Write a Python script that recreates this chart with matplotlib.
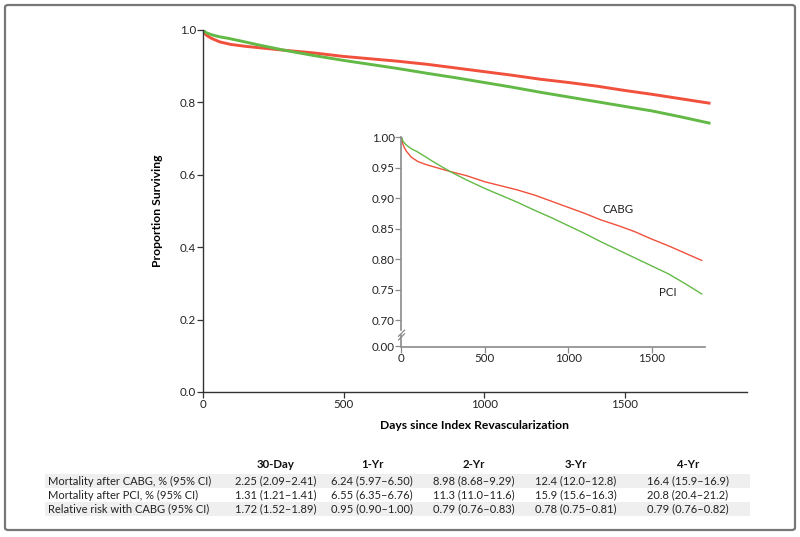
import matplotlib
matplotlib.use("Agg")
import matplotlib.pyplot as plt
from matplotlib.patches import FancyBboxPatch, Rectangle

# ---------------- data ----------------
cabg_days = [0, 7, 15, 30, 60, 100, 150, 200, 290, 390, 500, 690, 800, 900, 1000, 1100, 1200, 1300, 1400, 1500, 1600, 1700, 1800]
cabg_surv = [1.0, 0.990, 0.984, 0.977, 0.967, 0.960, 0.955, 0.951, 0.944, 0.937, 0.927, 0.914, 0.905, 0.895, 0.885, 0.875, 0.864, 0.855, 0.845, 0.833, 0.822, 0.810, 0.798]
pci_days = [0, 10, 30, 60, 90, 150, 190, 290, 390, 500, 690, 800, 900, 1000, 1100, 1200, 1300, 1400, 1500, 1600, 1700, 1800]
pci_surv = [1.0, 0.993, 0.987, 0.981, 0.977, 0.967, 0.960, 0.944, 0.930, 0.916, 0.894, 0.880, 0.868, 0.855, 0.842, 0.828, 0.815, 0.802, 0.789, 0.776, 0.760, 0.743]

main_yticks = [0.0, 0.2, 0.4, 0.6, 0.8, 1.0]
main_xticks = [0, 500, 1000, 1500]
inset_yticks = [0.70, 0.75, 0.80, 0.85, 0.90, 0.95, 1.00]
inset_xticks = [0, 500, 1000, 1500]

col_headers = ["30-Day", "1-Yr", "2-Yr", "3-Yr", "4-Yr"]
row_labels = ["Mortality after CABG, % (95% CI)",
              "Mortality after PCI, % (95% CI)",
              "Relative risk with CABG (95% CI)"]
cell_text = [
    ["2.25 (2.09\u20132.41)", "6.24 (5.97\u20136.50)", "8.98 (8.68\u20139.29)", "12.4 (12.0\u201312.8)", "16.4 (15.9\u201316.9)"],
    ["1.31 (1.21\u20131.41)", "6.55 (6.35\u20136.76)", "11.3 (11.0\u201311.6)", "15.9 (15.6\u201316.3)", "20.8 (20.4\u201321.2)"],
    ["1.72 (1.52\u20131.89)", "0.95 (0.90\u20131.00)", "0.79 (0.76\u20130.83)", "0.78 (0.75\u20130.81)", "0.79 (0.76\u20130.82)"],
]

RED = "#f0503c"
GREEN = "#63b946"
AX = "#333333"
GRAY = "#8a8a8a"

plt.rcParams['font.family'] = ['Lato', 'DejaVu Sans']

W, H = 800, 537
fig = plt.figure(figsize=(8, 5.37), dpi=100)

def fx(x):
    return x / W

def fy(y):
    return 1 - y / H

# outer border
fig.patches.append(FancyBboxPatch((fx(5), fy(530)), fx(790), (525) / H,
                                  boxstyle="round,pad=0,rounding_size=0.004",
                                  transform=fig.transFigure, fill=False,
                                  edgecolor="#777777", linewidth=1.6))

# ---------------- main axes ----------------
ax = fig.add_axes([fx(203), fy(392), fx(747 - 203), (392 - 30) / H])
ax.plot(cabg_days, cabg_surv, color=RED, lw=2.1)
ax.plot(pci_days, pci_surv, color=GREEN, lw=2.1)
ax.set_xlim(0, 1935)
ax.set_ylim(0, 1.0)
ax.set_xticks(main_xticks)
ax.set_xticklabels([str(t) for t in main_xticks])
ax.set_yticks(main_yticks)
ax.set_yticklabels([f"{t:.1f}" for t in main_yticks])
for s in ["top", "right"]:
    ax.spines[s].set_visible(False)
for s in ["left", "bottom"]:
    ax.spines[s].set_color(AX)
    ax.spines[s].set_linewidth(1.0)
ax.tick_params(axis="both", direction="out", length=4, width=0.9, color=AX,
               labelsize=8.3, labelcolor="#222222", pad=1)
ax.set_xlabel("Days since Index Revascularization", fontsize=8.7, fontweight="bold", labelpad=7)
ax.set_ylabel("Proportion Surviving", fontsize=8.7, fontweight="bold", labelpad=12)

# ---------------- inset ----------------
ybot = 0.6567
axi = fig.add_axes([fx(401.5), fy(346.5), fx(705 - 401.5), (346.5 - 137.3) / H])
axi.plot(cabg_days, cabg_surv, color=RED, lw=1.0)
axi.plot(pci_days, pci_surv, color=GREEN, lw=1.0)
axi.set_xlim(0, 1820)
axi.set_ylim(ybot, 1.0)
axi.set_xticks(inset_xticks)
axi.set_xticklabels([str(t) for t in inset_xticks])
axi.set_yticks([ybot] + inset_yticks)
axi.set_yticklabels(["0.00"] + [f"{t:.2f}" for t in inset_yticks])
for s in ["top", "right"]:
    axi.spines[s].set_visible(False)
for s in ["left", "bottom"]:
    axi.spines[s].set_color(GRAY)
    axi.spines[s].set_linewidth(1.2)
axi.spines["left"].set_bounds(0.683, 1.0)
axi.plot([0, 0], [ybot, 0.676], color=GRAY, lw=1.2, clip_on=False)
axi.tick_params(axis="both", direction="out", length=4, width=0.9, color=GRAY,
                labelsize=8.3, labelcolor="#222222", pad=1)
# break marks
for dy in (0.0, 0.006):
    axi.plot([-18, 18], [0.6735 + dy - 0.006, 0.6795 + dy - 0.002], color=GRAY, lw=0.9,
             clip_on=False, transform=axi.transData)
axi.text(1298, 0.881, "CABG", fontsize=8.3, color="#222222", ha="center", va="center")
axi.text(1598, 0.745, "PCI", fontsize=8.3, color="#222222", ha="center", va="center")

# ---------------- table ----------------
col_x = [276, 372, 474, 576, 688]
head_y = 464
row_y = [481, 495, 509]
row_h = 13.5
for i, y in enumerate(row_y):
    if i % 2 == 0:
        fig.patches.append(Rectangle((fx(45), fy(y + row_h / 2)), fx(750 - 45), row_h / H,
                                     transform=fig.transFigure, facecolor="#efefef",
                                     edgecolor="none", zorder=0))
for j, h in enumerate(col_headers):
    fig.text(fx(col_x[j]), fy(head_y), h, fontsize=8.2, fontweight="bold",
             ha="center", va="center", color="#111111")
for i, lab in enumerate(row_labels):
    fig.text(fx(48), fy(row_y[i]), lab, fontsize=8.0, ha="left", va="center", color="#222222")
    for j, c in enumerate(cell_text[i]):
        fig.text(fx(col_x[j]), fy(row_y[i]), c, fontsize=8.0, ha="center", va="center",
                 color="#222222")

fig.savefig("out.png", dpi=100)
